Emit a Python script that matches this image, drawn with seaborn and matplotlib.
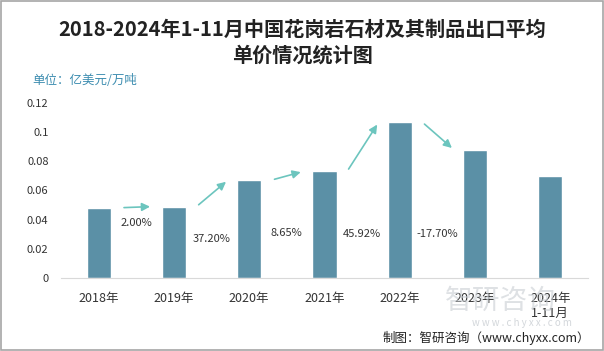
import numpy as np
import pandas as pd
import matplotlib.pyplot as plt
import seaborn as sns
from matplotlib.patches import Rectangle

# 数据
years = ['2018年', '2019年', '2020年', '2021年', '2022年', '2023年', '2024年\n1-11月']
price = [0.0482, 0.0490, 0.0672, 0.0731, 0.1068, 0.0879, 0.0701]
growth = ['2.00%', '37.20%', '8.65%', '45.92%', '-17.70%']
growth_y = [0.0376, 0.0266, 0.0307, 0.0302, 0.0305]
yticks = [0, 0.02, 0.04, 0.06, 0.08, 0.1, 0.12]
ytick_labels = ['0', '0.02', '0.04', '0.06', '0.08', '0.1', '0.12']

df = pd.DataFrame({'year': years, 'price': price})

sns.set_style('white')
plt.rcParams['font.family'] = ['Noto Sans CJK SC', 'DejaVu Sans']

fig = plt.figure(figsize=(6.04, 3.51), dpi=100)
ax = fig.add_axes([61 / 604, 1 - 278 / 351, 527 / 604, 175 / 351])

sns.barplot(data=df, x='year', y='price', color='#5B90A6', width=0.32,
            saturation=1, ax=ax)

# 增长率箭头和标签
for i in range(len(growth)):
    ax.annotate('', xy=(i + 0.72, price[i + 1]), xytext=(i + 0.3, price[i]),
                arrowprops=dict(arrowstyle='-|>', color='#6CC5BE', lw=1.2,
                                mutation_scale=12))
    ax.text(i + 0.5, growth_y[i], growth[i], ha='center', va='center',
            fontsize=8, color='#333333')

ax.set_xlim(-0.5, 6.5)
ax.set_ylim(0, 0.12)
ax.set_yticks(yticks)
ax.set_yticklabels(ytick_labels, fontsize=8, color='#333333')
ax.tick_params(axis='x', labelsize=9, colors='#333333', length=0, pad=10)
ax.tick_params(axis='y', length=0, pad=9)
ax.set_xlabel('')
ax.set_ylabel('')
for s in ['top', 'right', 'left']:
    ax.spines[s].set_visible(False)
ax.spines['bottom'].set_color('#D9D9D9')

# 标题与文字
fig.text(0.5, 1 - 42 / 351, '2018-2024年1-11月中国花岗岩石材及其制品出口平均\n单价情况统计图',
         ha='center', va='center', fontsize=14.5, fontweight='semibold',
         color='#222222', linespacing=1.3)
fig.text(32 / 604, 1 - 80 / 351, '单位：亿美元/万吨', ha='left', va='center',
         fontsize=9, color='#3D8DB0')
fig.text(590 / 604, 1 - 338 / 351, '制图：智研咨询（www.chyxx.com）',
         ha='right', va='center', fontsize=9, color='#222222')

# 水印
fig.text(500 / 604, 1 - 301 / 351, '智研咨询', ha='center', va='center',
         fontsize=20, color='#C8CDD2', alpha=0.6)
fig.text(522 / 604, 1 - 323 / 351, 'w w w . c h y x x . c o m', ha='center',
         va='center', fontsize=7, color='#C8CDD2', alpha=0.8)

# 外框
fig.patches.append(Rectangle((0.001, 0.002), 0.997, 0.996, transform=fig.transFigure,
                             fill=False, edgecolor='#A6A6A6', lw=1.2))

fig.savefig('out.png', dpi=100)
